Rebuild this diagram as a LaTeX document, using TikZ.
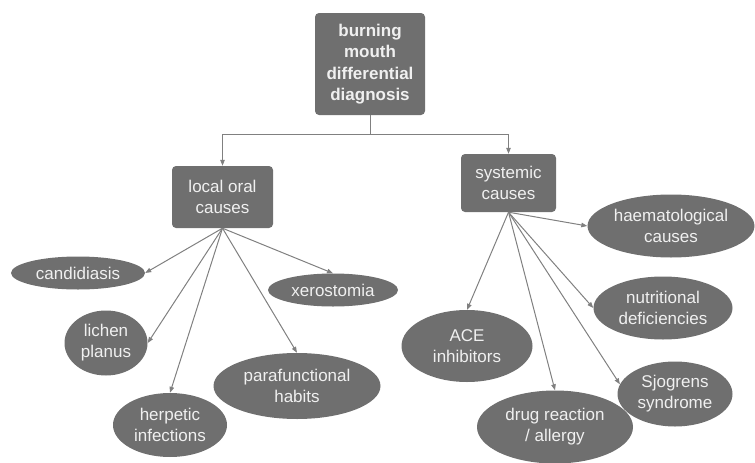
\documentclass[tikz,border=0pt]{standalone}
\usepackage{fontspec}
\setmainfont{Liberation Sans}
\usetikzlibrary{shapes.geometric,arrows.meta}
\definecolor{boxgray}{HTML}{6F6F6F}
\definecolor{linegray}{HTML}{808080}
\definecolor{textgray}{HTML}{F0F0F0}
\tikzset{
  box/.style={draw=none,fill=boxgray,text=textgray,rounded corners=4pt,align=center,
    inner sep=0pt,font=\fontsize{17}{21}\selectfont},
  cause/.style={ellipse,draw=none,fill=boxgray,text=textgray,align=center,
    inner sep=0pt,font=\fontsize{17}{21}\selectfont},
  arr/.style={draw=linegray,line width=1pt,-{Triangle[length=6pt,width=4.5pt]}}
}
\begin{document}
\begin{tikzpicture}[x=1pt,y=-1pt]
\useasboundingbox (0,0) rectangle (755,463);
\node [box,minimum width=110pt,minimum height=102pt,font=\fontsize{17}{21.5}\selectfont\bfseries] (root) at (370,64) {burning\\mouth\\differential\\diagnosis};
\node [box,minimum width=101pt,minimum height=62pt] (local) at (222.5,197) {local oral\\causes};
\node [box,minimum width=95pt,minimum height=58pt] (sys) at (508.5,183) {systemic\\causes};
\coordinate (split) at (370,134);
\draw [draw=linegray,line width=1pt] (root) -- (split);
\draw [arr] (split) -| (local);
\draw [arr] (split) -| (sys);
% local oral causes
\node [cause,minimum width=134pt,minimum height=33pt] (cand) at (78,273) {candidiasis};
\node [cause,minimum width=130pt,minimum height=33pt] (xero) at (333,290) {xerostomia};
\node [cause,minimum width=83pt,minimum height=65pt] (lichen) at (106,343) {lichen\\planus};
\node [cause,minimum width=167pt,minimum height=66pt] (para) at (297,386) {parafunctional\\habits};
\node [cause,minimum width=114pt,minimum height=64pt] (herp) at (170,425) {herpetic\\infections};
% systemic causes
\node [cause,minimum width=167pt,minimum height=63pt] (haem) at (671,226) {haematological\\causes};
\node [cause,minimum width=139pt,minimum height=63pt] (nutr) at (663,308) {nutritional\\deficiencies};
\node [cause,minimum width=131pt,minimum height=72pt] (ace) at (467,346) {ACE\\inhibitors};
\node [cause,minimum width=115pt,minimum height=65pt] (sjog) at (675,394) {Sjogrens\\syndrome};
\node [cause,minimum width=156pt,minimum height=73pt] (drug) at (555,427) {drug reaction\\/ allergy};
\foreach \n/\a in {cand/east,lichen/east,herp/north,para/north,xero/north}{
  \draw [arr] (local.south) -- (\n.\a);
}
\foreach \n/\a in {haem/west,nutr/west,sjog/170,drug/north,ace/north}{
  \draw [arr] (sys.south) -- (\n.\a);
}
\end{tikzpicture}
\end{document}
